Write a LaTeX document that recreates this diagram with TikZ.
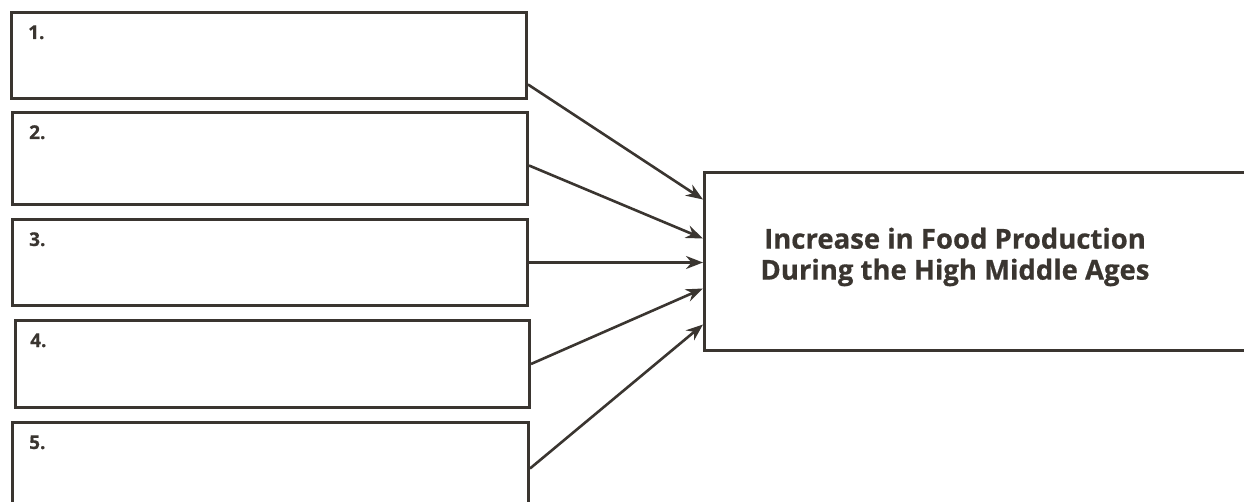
\documentclass[tikz,border=0pt]{standalone}
\usepackage{fontspec}
\setmainfont{Open Sans}[BoldFeatures={FakeBold=0.6}]
\usetikzlibrary{arrows.meta}
\definecolor{ink}{HTML}{3A3530}
\begin{document}
\begin{tikzpicture}[x=1pt,y=-1pt,
  box/.style={draw=ink, line width=3pt, anchor=north west, inner sep=0pt},
  num/.style={anchor=base west, text=ink, font=\bfseries\fontsize{19}{21}\selectfont, inner sep=0pt},
  conn/.style={draw=ink, line width=2.6pt, -{Stealth[length=17pt,width=13pt]}},
  title/.style={text=ink, font=\bfseries\fontsize{27.5}{31}\selectfont, align=center}]
\useasboundingbox (0,0) rectangle (1244,502);
\node[box, minimum width=515pt, minimum height=86pt] (b1) at (10,11) {};
\node[box, minimum width=515pt, minimum height=92pt] (b2) at (11,111) {};
\node[box, minimum width=515pt, minimum height=86pt] (b3) at (11,218) {};
\node[box, minimum width=514pt, minimum height=87pt] (b4) at (14,319) {};
\node[box, minimum width=516pt, minimum height=92pt] (b5) at (11,421) {};
\node[box, minimum width=560pt, minimum height=178pt] (r) at (703,171) {};
\node[num] (n1) at ([xshift=18pt,yshift=-28pt]b1.north west) {1.};
\node[num] (n2) at ([xshift=18pt,yshift=-28pt]b2.north west) {2.};
\node[num] (n3) at ([xshift=18pt,yshift=-28pt]b3.north west) {3.};
\node[num] (n4) at ([xshift=16pt,yshift=-28pt]b4.north west) {4.};
\node[num] (n5) at ([xshift=18pt,yshift=-28pt]b5.north west) {5.};
\node[title] (t) at (955,257) {Increase in Food Production\\During the High Middle Ages};
\draw[conn] ([yshift=-29pt]b1.east) -- ([yshift=62pt]r.west);
\draw[conn] ([yshift=-7pt]b2.east) -- ([yshift=23pt]r.west);
\draw[conn] (b3.east) -- ([yshift=-1pt]r.west);
\draw[conn] (b4.east) -- ([yshift=-27pt]r.west);
\draw[conn] ([yshift=0pt]b5.east) -- ([yshift=-63pt]r.west);
\end{tikzpicture}
\end{document}
